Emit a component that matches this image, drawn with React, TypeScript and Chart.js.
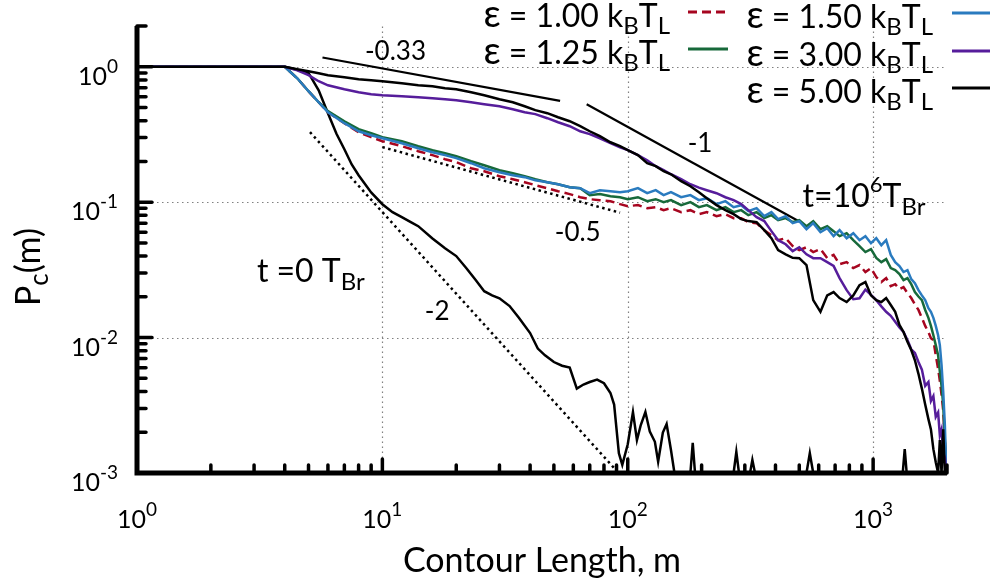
import React, { useEffect, useRef } from "react";
import { Chart, registerables } from "chart.js";
Chart.register(...registerables);

// contour length grid for the t = 10^6 curves
const mGrid = [
  1, 2, 3, 4,
  4.5, 5, 5.5, 6, 7, 8, 9, 10,
  12, 14, 16, 18, 20, 23, 26, 30, 34, 38, 42, 47, 52, 58, 64, 70, 77, 85, 93,
  100, 110, 120, 130, 140, 150, 165, 180, 195, 210,
  230, 250, 270, 290, 310, 335, 360, 385, 410, 440, 470, 500, 535, 570, 610, 650, 690, 730, 780, 830, 880, 930, 980,
  1030, 1080, 1130, 1180, 1230, 1280, 1330, 1380, 1430, 1480, 1530, 1580, 1630, 1680, 1720, 1760, 1800, 1840, 1870, 1900, 1930, 1960, 1990,
];

const pEps100 = [
  1, 1, 1, 1,
  0.822, 0.66, 0.547, 0.462, 0.383, 0.329, 0.302, 0.282,
  0.259, 0.238, 0.2225, 0.2077, 0.1975, 0.178, 0.1693, 0.1555, 0.1478, 0.1405, 0.1335, 0.1268, 0.1205, 0.1147, 0.1088, 0.1052, 0.1035, 0.1017, 0.0967,
  0.0935, 0.0951, 0.0903, 0.0919, 0.0873, 0.0903, 0.0844, 0.0873, 0.0816, 0.0844,
  0.0788, 0.0816, 0.0762, 0.0762, 0.0712, 0.07, 0.0621, 0.0571, 0.0524, 0.0542, 0.0474, 0.0442, 0.0465, 0.0428, 0.045, 0.0386, 0.0408, 0.0348, 0.0361, 0.0326, 0.0343, 0.0305, 0.0326,
  0.028, 0.0257, 0.0275, 0.024, 0.0248, 0.0228, 0.0236, 0.0213, 0.0196, 0.0176, 0.016, 0.014, 0.0122, 0.011, 0.0099, 0.0096, 0.0074, 0.0059, 0.0048, 0.0038, 0.0029, 0.00175, 0.001,
];

const pEps125 = [
  1, 1, 1, 1,
  0.822, 0.66, 0.547, 0.47, 0.396, 0.346, 0.323, 0.3015,
  0.282, 0.259, 0.242, 0.23, 0.2186, 0.2007, 0.1875, 0.1722, 0.1636, 0.1555, 0.1478, 0.1405, 0.1357, 0.129, 0.1268, 0.1127, 0.1147, 0.1108, 0.1088,
  0.1052, 0.1088, 0.1017, 0.1052, 0.1001, 0.1035, 0.0951, 0.1001, 0.0919, 0.0951,
  0.0873, 0.0919, 0.0844, 0.0873, 0.0802, 0.0844, 0.0762, 0.0802, 0.0737, 0.0762, 0.0712, 0.0737, 0.0665, 0.0725, 0.0632, 0.0665, 0.0611, 0.0561, 0.059, 0.0524, 0.0474, 0.0428, 0.045,
  0.0388, 0.0361, 0.038, 0.0326, 0.0315, 0.0295, 0.0266, 0.0275, 0.0248, 0.0217, 0.0201, 0.0189, 0.016, 0.014, 0.0122, 0.0104, 0.0088, 0.0074, 0.0056, 0.0044, 0.0032, 0.00175, 0.001,
];

const pEps150 = [
  1, 1, 1, 1,
  0.822, 0.66, 0.547, 0.462, 0.383, 0.334, 0.312, 0.2965,
  0.2725, 0.25, 0.234, 0.2225, 0.2114, 0.194, 0.178, 0.1665, 0.158, 0.153, 0.145, 0.1405, 0.1357, 0.129, 0.1268, 0.1165, 0.1226, 0.1205, 0.1185,
  0.1205, 0.127, 0.1165, 0.1226, 0.1127, 0.1185, 0.1088, 0.1127, 0.1035, 0.107,
  0.0967, 0.1017, 0.0919, 0.095, 0.0858, 0.0903, 0.0788, 0.0844, 0.0749, 0.0788, 0.07, 0.0725, 0.0632, 0.07, 0.06, 0.0642, 0.0561, 0.0621, 0.0542, 0.059, 0.0524, 0.0561, 0.0498,
  0.0542, 0.0481, 0.0524, 0.0408, 0.0361, 0.0338, 0.0305, 0.0315, 0.027, 0.0252, 0.0224, 0.0205, 0.0189, 0.0165, 0.0155, 0.014, 0.0122, 0.0104, 0.0088, 0.0063, 0.004, 0.00227, 0.001,
];

const pEps300 = [
  1, 1, 1, 1,
  0.942, 0.866, 0.782, 0.73, 0.682, 0.649, 0.627, 0.616,
  0.606, 0.596, 0.586, 0.576, 0.566, 0.547, 0.529, 0.511, 0.486, 0.462, 0.447, 0.417, 0.389, 0.364, 0.334, 0.318, 0.2965, 0.2725, 0.2545,
  0.2421, 0.2225, 0.2042, 0.1844, 0.1722, 0.1608, 0.148, 0.1357, 0.128, 0.1226,
  0.1165, 0.1088, 0.1035, 0.0967, 0.0873, 0.0775, 0.0725, 0.0611, 0.0524, 0.0489, 0.0435, 0.0465, 0.0412, 0.0386, 0.0386, 0.0361, 0.0338, 0.0275, 0.0224, 0.0192, 0.0195, 0.0226, 0.0207,
  0.0189, 0.017, 0.0155, 0.0145, 0.0131, 0.0119, 0.011, 0.0096, 0.0082, 0.0077, 0.0066, 0.0058, 0.0044, 0.0047, 0.0034, 0.0037, 0.0026, 0.0028, 0.0019, 0.0021, 0.0014, 0.0013, 0.001,
];

const pEps500 = [
  1, 1, 1, 1,
  0.958, 0.927, 0.895, 0.866, 0.837, 0.809, 0.795, 0.782,
  0.755, 0.73, 0.718, 0.694, 0.682, 0.649, 0.616, 0.576, 0.547, 0.511, 0.478, 0.454, 0.424, 0.396, 0.364, 0.334, 0.307, 0.277, 0.259,
  0.242, 0.2225, 0.194, 0.1844, 0.1693, 0.1608, 0.1429, 0.1311, 0.1185, 0.107,
  0.0951, 0.0873, 0.0816, 0.075, 0.0725, 0.0712, 0.0621, 0.0542, 0.0442, 0.0412, 0.0388, 0.0386, 0.0343, 0.0189, 0.0155, 0.0205, 0.0217, 0.0196, 0.0183, 0.0205, 0.0244, 0.0257, 0.0205,
  0.0189, 0.0183, 0.0196, 0.0174, 0.0155, 0.0124, 0.011, 0.0093, 0.0081, 0.0068, 0.0054, 0.0042, 0.0032, 0.0025, 0.0021, 0.0015, 0.0012, 0.001, 0.00175, 0.001, 0.0021, 0.001, 0.001,
];

// initial state t = 0
const t0M = [
  1, 2, 3, 4, 4.5, 5, 5.5, 6, 6.5, 7, 7.5, 8, 9, 10,
  11, 12, 13, 14, 16, 17, 18, 20,
  22, 24, 26, 28, 30, 33, 36, 40,
  43, 46, 50, 54, 58, 62, 66, 70,
  75, 80, 85, 88, 92, 95, 100,
  105, 109, 113, 118, 123, 129, 133, 139, 144, 150, 155,
  180, 184, 188, 270, 277, 284, 315, 322, 330, 535, 552, 570, 1320, 1345, 1370, 2000,
];
const t0P = [
  1, 1, 1, 1, 0.95, 0.9, 0.67, 0.454, 0.32, 0.246, 0.19, 0.158, 0.118, 0.0966,
  0.0844, 0.0775, 0.0715, 0.0665, 0.054, 0.0495, 0.0457, 0.04,
  0.0325, 0.0266, 0.022, 0.0205, 0.0195, 0.0171, 0.014, 0.0108,
  0.0083, 0.0074, 0.0066, 0.0062, 0.006, 0.0042, 0.0045, 0.0047,
  0.0049, 0.0046, 0.0039, 0.0032, 0.0014, 0.00115, 0.00163,
  0.00282, 0.00175, 0.00226, 0.00282, 0.00202, 0.0017, 0.00121, 0.00199, 0.0023, 0.00148, 0.001,
  0.001, 0.00167, 0.001, 0.001, 0.00143, 0.001, 0.001, 0.00125, 0.001, 0.001, 0.0014, 0.001, 0.001, 0.0015, 0.001, 0.001,
];

// power-law guide lines
const fit033M = [5.7, 53];
const fit033P = [1.17, 0.56];
const fit1M = [68, 500];
const fit1P = [0.529, 0.072];
const fit05M = [10, 93];
const fit05P = [0.255, 0.0836];
const fit2M = [5.07, 90];
const fit2P = [0.329, 0.00104];

const xTickExps = [0, 1, 2, 3];
const yTickExps = [-3, -2, -1, 0];
const legendEps = ["1.00", "1.25", "1.50", "3.00", "5.00"];

const FAMILY = 'Lato, "Open Sans", "DejaVu Sans", sans-serif';

type Seg = { t: string; s: number; dy?: number };

function drawRich(ctx: CanvasRenderingContext2D, segs: Seg[], x: number, y: number, align: string) {
  const widths = segs.map((sg) => {
    ctx.font = `${sg.s}px ${FAMILY}`;
    return ctx.measureText(sg.t).width;
  });
  const total = widths.reduce((a, b) => a + b, 0);
  let cx = align === "left" ? x : align === "right" ? x - total : x - total / 2;
  ctx.textAlign = "left";
  ctx.textBaseline = "alphabetic";
  segs.forEach((sg, i) => {
    ctx.font = `${sg.s}px ${FAMILY}`;
    ctx.fillText(sg.t, cx, y + (sg.dy || 0));
    cx += widths[i];
  });
}

const overlay = {
  id: "overlay",
  beforeDatasetsDraw(chart: any) {
    const { ctx, scales } = chart;
    const xs = scales.x;
    const ys = scales.y;
    const L = xs.getPixelForValue(1);
    const R = xs.getPixelForValue(2000);
    const T = ys.getPixelForValue(2);
    const B = ys.getPixelForValue(0.001);
    ctx.save();
    ctx.strokeStyle = "#808080";
    ctx.lineWidth = 1.2;
    ctx.setLineDash([1.5, 3.5]);
    xTickExps.slice(1).forEach((e) => {
      const px = Math.round(xs.getPixelForValue(Math.pow(10, e))) + 0.5;
      ctx.beginPath();
      ctx.moveTo(px, B);
      ctx.lineTo(px, T);
      ctx.stroke();
    });
    yTickExps.slice(1).forEach((e) => {
      const py = Math.round(ys.getPixelForValue(Math.pow(10, e))) + 0.5;
      ctx.beginPath();
      ctx.moveTo(L, py);
      ctx.lineTo(R, py);
      ctx.stroke();
    });
    ctx.restore();
  },
  afterDatasetsDraw(chart: any) {
    const { ctx, scales } = chart;
    const xs = scales.x;
    const ys = scales.y;
    const L = xs.getPixelForValue(1);
    const R = xs.getPixelForValue(2000);
    const T = ys.getPixelForValue(2);
    const B = ys.getPixelForValue(0.001);
    ctx.save();
    // axes
    ctx.strokeStyle = "#000";
    ctx.lineWidth = 5;
    ctx.setLineDash([]);
    ctx.lineCap = "butt";
    ctx.beginPath();
    ctx.moveTo(L, T);
    ctx.lineTo(L, B + 2.5);
    ctx.moveTo(L - 2.5, B);
    ctx.lineTo(R, B);
    ctx.stroke();
    // ticks (inward)
    ctx.lineWidth = 3.5;
    ctx.lineCap = "round";
    ctx.beginPath();
    xTickExps.forEach((e) => {
      for (let k = 1; k <= 9; k++) {
        const v = k * Math.pow(10, e);
        if (v > 2000) break;
        const px = xs.getPixelForValue(v);
        const len = k === 1 ? 14 : 8;
        ctx.moveTo(px, B);
        ctx.lineTo(px, B - len);
      }
    });
    yTickExps.forEach((e) => {
      for (let k = 1; k <= 9; k++) {
        const v = k * Math.pow(10, e);
        if (v > 2) break;
        const py = ys.getPixelForValue(v);
        const len = k === 1 ? 15 : 9;
        ctx.moveTo(L, py);
        ctx.lineTo(L + len, py);
      }
    });
    ctx.stroke();

    ctx.fillStyle = "#000";
    // tick labels
    xTickExps.forEach((e) => {
      const px = xs.getPixelForValue(Math.pow(10, e));
      drawRich(ctx, [{ t: "10", s: 25 }, { t: String(e), s: 19, dy: -12 }], px, B + 55, "center");
    });
    yTickExps.forEach((e) => {
      const py = ys.getPixelForValue(Math.pow(10, e));
      drawRich(ctx, [{ t: "10", s: 25 }, { t: String(e), s: 19, dy: -12 }], L - 19, py + 18, "right");
    });

    // axis titles
    drawRich(ctx, [{ t: "Contour Length, m", s: 34 }], (L + R) / 2, B + 99, "center");
    ctx.save();
    ctx.translate(40, 267);
    ctx.rotate(-Math.PI / 2);
    drawRich(ctx, [{ t: "P", s: 34 }, { t: "c", s: 26, dy: 8 }, { t: "(m)", s: 34 }], 0, 0, "center");
    ctx.restore();

    // slope annotations
    const at = (x: number, y: number) => [xs.getPixelForValue(x), ys.getPixelForValue(y)];
    let p = at(8.49, 1.117);
    drawRich(ctx, [{ t: "-0.33", s: 26 }], p[0], p[1], "left");
    p = at(175.5, 0.234);
    drawRich(ctx, [{ t: "-1", s: 26 }], p[0], p[1], "left");
    p = at(50.4, 0.0515);
    drawRich(ctx, [{ t: "-0.5", s: 26 }], p[0], p[1], "left");
    p = at(14.9, 0.01346);
    drawRich(ctx, [{ t: "-2", s: 26 }], p[0], p[1], "left");
    p = at(3.08, 0.0257);
    drawRich(ctx, [{ t: "t =0", s: 32 }, { t: " T", s: 32 }, { t: "Br", s: 24, dy: 8 }], p[0], p[1], "left");
    p = at(516, 0.0919);
    drawRich(ctx, [{ t: "t=10", s: 32 }, { t: "6", s: 22, dy: -15 }, { t: "T", s: 32 }, { t: "Br", s: 24, dy: 8 }], p[0], p[1], "left");

    // legend
    const entries = [
      { eps: legendEps[0], ds: 4, right: 670, y: 12, s1: 688 },
      { eps: legendEps[1], ds: 3, right: 670, y: 49, s1: 688 },
      { eps: legendEps[2], ds: 2, right: 933, y: 13, s1: 952 },
      { eps: legendEps[3], ds: 1, right: 933, y: 51, s1: 952 },
      { eps: legendEps[4], ds: 0, right: 933, y: 88, s1: 952 },
    ];
    entries.forEach((en) => {
      ctx.fillStyle = "#000";
      drawRich(
        ctx,
        [
          { t: "ε", s: 38 },
          { t: " = " + en.eps + " k", s: 32 },
          { t: "B", s: 24, dy: 7 },
          { t: "T", s: 32 },
          { t: "L", s: 24, dy: 7 },
        ],
        en.right,
        en.y + 15,
        "right"
      );
      const d = chart.data.datasets[en.ds];
      ctx.strokeStyle = d.borderColor;
      ctx.lineWidth = 3;
      ctx.lineCap = "butt";
      ctx.setLineDash(d.borderDash || []);
      ctx.beginPath();
      ctx.moveTo(en.s1, en.y);
      ctx.lineTo(en.s1 + 40, en.y);
      ctx.stroke();
    });
    ctx.restore();
  },
};

function series(label: string, xs: number[], ys: number[], color: string, width: number, dash?: number[]) {
  return {
    label,
    data: xs.map((x, i) => ({ x, y: ys[i] })),
    borderColor: color,
    backgroundColor: color,
    borderWidth: width,
    borderDash: dash || [],
    showLine: true,
    pointRadius: 0,
    fill: false,
    tension: 0,
  };
}

export default function App() {
  const ref = useRef<HTMLCanvasElement | null>(null);
  useEffect(() => {
    if (!ref.current) return;
    const chart = new Chart(ref.current, {
      type: "scatter",
      data: {
        datasets: [
          series("ε = 5.00", mGrid, pEps500, "#000000", 2.5),
          series("ε = 3.00", mGrid, pEps300, "#561d9b", 2.5),
          series("ε = 1.50", mGrid, pEps150, "#2a7bbf", 2.5),
          series("ε = 1.25", mGrid, pEps125, "#17693a", 2.5),
          series("ε = 1.00", mGrid, pEps100, "#a6051f", 2.5, [9, 5]),
          series("t = 0", t0M, t0P, "#000000", 2.5),
          series("-0.33", fit033M, fit033P, "#000000", 2.2),
          series("-1", fit1M, fit1P, "#000000", 2.2),
          series("-0.5", fit05M, fit05P, "#000000", 2.5, [2.5, 3.5]),
          series("-2", fit2M, fit2P, "#000000", 2.5, [2.5, 3.5]),
        ],
      } as any,
      options: {
        animation: false,
        responsive: false,
        layout: { padding: { left: 137, right: 43, top: 26, bottom: 112 } },
        plugins: { legend: { display: false }, tooltip: { enabled: false } },
        scales: {
          x: { type: "logarithmic", min: 1, max: 2000, display: false },
          y: { type: "logarithmic", min: 0.001, max: 2, display: false },
        },
      } as any,
      plugins: [overlay],
    });
    const fonts: any = (document as any).fonts;
    if (fonts && fonts.ready) fonts.ready.then(() => chart.update());
    return () => chart.destroy();
  }, []);
  return (
    <div style={{ position: "absolute", left: 0, top: 0, width: 990, height: 585, background: "#fff" }}>
      <canvas ref={ref} width={990} height={585} style={{ display: "block" }} />
    </div>
  );
}
